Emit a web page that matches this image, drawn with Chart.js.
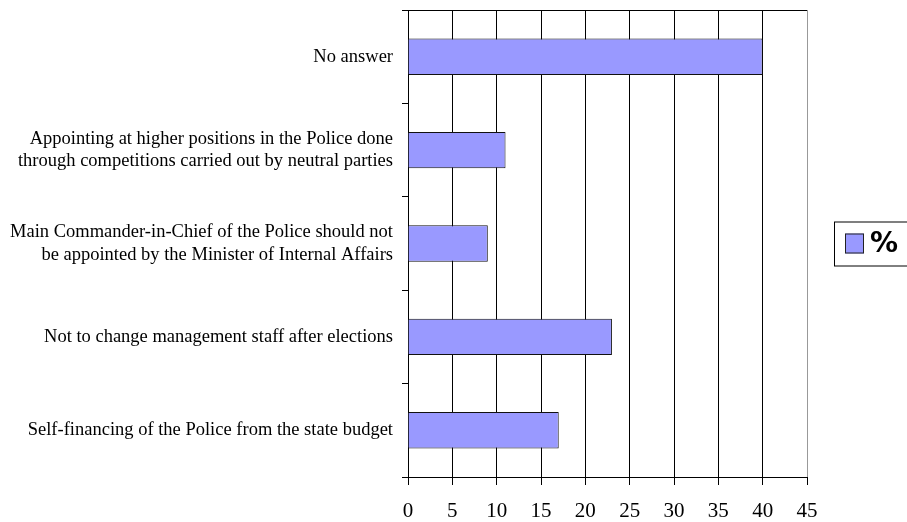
<!DOCTYPE html>
<html>
<head>
<meta charset="utf-8">
<script src="https://cdn.jsdelivr.net/npm/chart.js@4/dist/chart.umd.min.js"></script>
<style>
  html, body { margin: 0; padding: 0; background: #fff; }
  #wrap { width: 907px; height: 522px; position: relative; }
</style>
</head>
<body>
<div id="wrap"><canvas id="chart" width="907" height="522"></canvas></div>
<script>
// data
const categories = [
  "No answer",
  ["Appointing at higher positions in the Police done", "through competitions carried out by neutral parties"],
  ["Main Commander-in-Chief of the Police should not", "be appointed by the Minister of Internal Affairs"],
  "Not to change management staff after elections",
  "Self-financing of the Police from the state budget"
];
const percentValues = [40, 11, 9, 23, 17];
const seriesLabel = "%";
const xTicks = [0, 5, 10, 15, 20, 25, 30, 35, 40, 45];

const barFill = "#9999FF";

// legend box drawn to the right of the plot, like the original
const boxLegend = {
  id: "boxLegend",
  afterDraw(chart) {
    const ctx = chart.ctx;
    const area = chart.chartArea;
    const x = area.right + 27;
    const yc = (area.top + area.bottom) / 2;
    const h = 44;
    const y = yc - h / 2;
    ctx.save();
    ctx.strokeStyle = "#000";
    ctx.lineWidth = 1;
    ctx.strokeRect(x + 0.5, y + 0.5, 120, h);
    const ds = chart.data.datasets[0];
    ctx.fillStyle = ds.backgroundColor;
    ctx.fillRect(x + 11, yc - 10, 19, 20);
    ctx.strokeStyle = "#222";
    ctx.strokeRect(x + 11.5, yc - 9.5, 18, 19);
    ctx.fillStyle = "#000";
    ctx.font = "bold 28px 'DejaVu Sans'";
    ctx.textBaseline = "middle";
    ctx.fillText(ds.label, x + 36, yc + 1);
    ctx.restore();
  }
};

new Chart(document.getElementById("chart").getContext("2d"), {
  type: "bar",
  data: {
    labels: categories,
    datasets: [{
      label: seriesLabel,
      data: percentValues,
      backgroundColor: barFill,
      borderColor: "#111",
      borderWidth: 1,
      categoryPercentage: 1,
      barPercentage: 0.39
    }]
  },
  options: {
    indexAxis: "y",
    responsive: false,
    animation: false,
    layout: { padding: { left: 0, top: 10, right: 100, bottom: 0 } },
    plugins: {
      legend: { display: false },
      tooltip: { enabled: false }
    },
    scales: {
      x: {
        min: 0,
        max: 45,
        afterBuildTicks: s => { s.ticks = xTicks.map(v => ({ value: v })); },
        afterFit: s => { s.height = 45; },
        border: { color: "#000", width: 1 },
        grid: {
          color: c => (c.tick && c.tick.value === 45) ? "#999" : "#000",
          tickColor: "#000",
          tickLength: 8,
          lineWidth: 1
        },
        ticks: {
          color: "#000",
          padding: 14,
          font: { family: "'Liberation Serif', 'Times New Roman', serif", size: 21 }
        }
      },
      y: {
        afterFit: s => { s.width = 408; s.paddingTop = 0; s.paddingBottom = 0; },
        border: { color: "#000", width: 1 },
        grid: {
          offset: true,
          color: c => c.index === 0 ? "#000" : "transparent",
          tickColor: "#000",
          tickLength: 6,
          lineWidth: 1
        },
        ticks: {
          color: "#000",
          padding: 9,
          font: { family: "'Liberation Serif', 'Times New Roman', serif", size: 18.5, lineHeight: 1.22 }
        }
      }
    }
  },
  plugins: [boxLegend]
});
</script>
</body>
</html>
